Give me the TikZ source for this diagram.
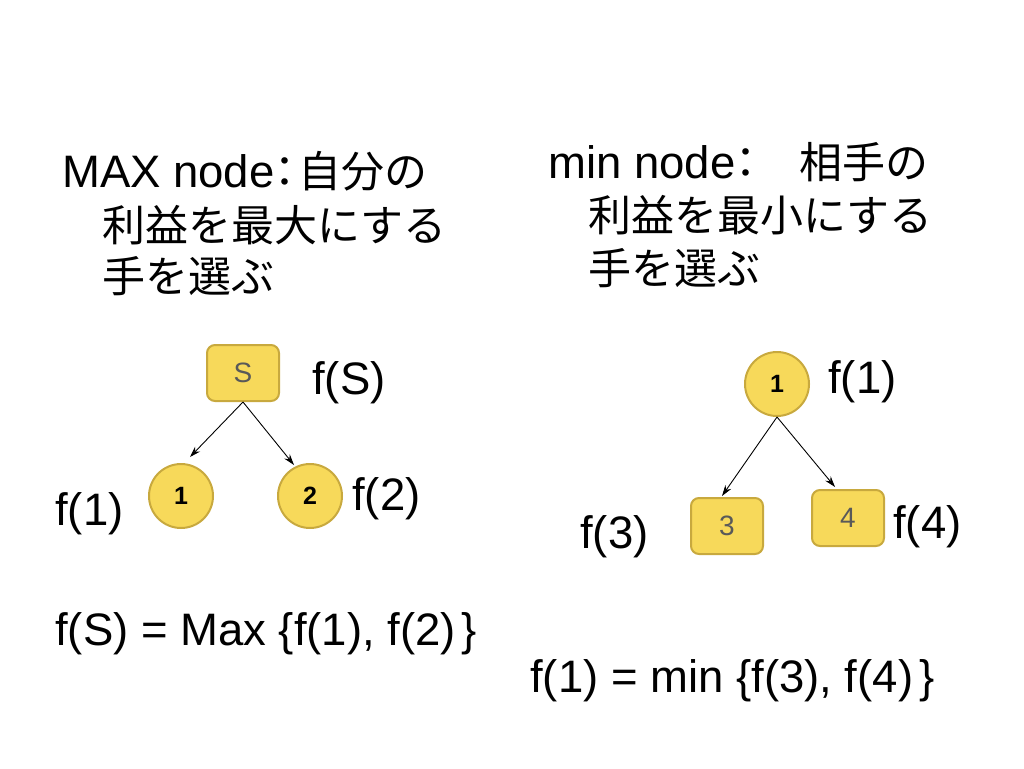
\documentclass[tikz,border=0pt]{standalone}
\usepackage{fontspec}
\setmainfont{Liberation Sans}
\newfontfamily\jp{Noto Sans CJK JP}
\newfontfamily\jpp[RawFeature=+palt]{Noto Sans CJK JP}
\usetikzlibrary{arrows.meta}
\definecolor{nodefill}{HTML}{F7D95A}
\definecolor{nodeline}{HTML}{C8A93E}
\tikzset{
  txt/.style={anchor=base west, inner sep=0pt, font=\fontsize{45.5}{52}\selectfont},
  jtxt/.style={anchor=base west, inner sep=0pt, font=\fontsize{43}{50}\selectfont\jp},
  boxnode/.style={draw=nodeline, fill=nodefill, line width=2pt, rounded corners=8pt,
    minimum width=72pt, minimum height=56pt, inner sep=0pt, text=black!65,
    font=\fontsize{28}{32}\selectfont},
  circnode/.style={draw=nodeline, fill=nodefill, line width=2pt, circle,
    minimum size=64pt, inner sep=0pt, font=\fontsize{25}{28}\selectfont\bfseries},
  arr/.style={-{Stealth[length=11pt,width=7pt]}, line width=0.9pt, black}
}
\begin{document}
\begin{tikzpicture}[x=1pt,y=-1pt]
\useasboundingbox (0,0) rectangle (1024,768);
% top texts left
\node[txt] (t1) at (62,187) {MAX node{\fontsize{43}{50}\selectfont{\jpp ：}\hspace{2pt}{\jp 自分の}}};
\node[jtxt] (t2) at (102,241) {利益を最大にする};
\node[jtxt] (t3) at (102,292) {手を選ぶ};
% top texts right
\node[txt] (t4) at (548,178) {min node{\fontsize{43}{50}\selectfont{\jpp ：}{\jp 　相手の}}};
\node[jtxt] (t5) at (588,231) {利益を最小にする};
\node[jtxt] (t6) at (588,284) {手を選ぶ};
% left tree
\node[boxnode] (S) at (243,373) {S};
\node[circnode] (L1) at (181,496) {1};
\node[circnode] (L2) at (310,496) {2};
\draw[arr] (S.south) -- ([shift={(9,-6)}]L1.north);
\draw[arr] (S.south) -- ([shift={(-16,2)}]L2.north);
\node[txt] (fS) at (312,394) {f(S)};
\node[txt] (f2) at (352,510) {f(2)};
\node[txt] (f1a) at (55,525) {f(1)};
\node[txt] (eq1) at (55,645) {f(S) = Max \{f(1), f(2)\hspace{6pt}\}};
% right tree
\node[circnode] (R1) at (777,384) {1};
\node[boxnode] (R3) at (727,526) {3};
\node[boxnode] (R4) at (848,518) {4};
\draw[arr] (R1.south) -- ([shift={(-5,-1)}]R3.north);
\draw[arr] (R1.south) -- ([shift={(-13,-2)}]R4.north);
\node[txt] (f1b) at (828,393) {f(1)};
\node[txt] (f4) at (893,538) {f(4)};
\node[txt] (f3) at (580,548) {f(3)};
\node[txt] (eq2) at (530,692) {f(1) = min \{f(3), f(4)\hspace{6pt}\}};
\end{tikzpicture}
\end{document}
